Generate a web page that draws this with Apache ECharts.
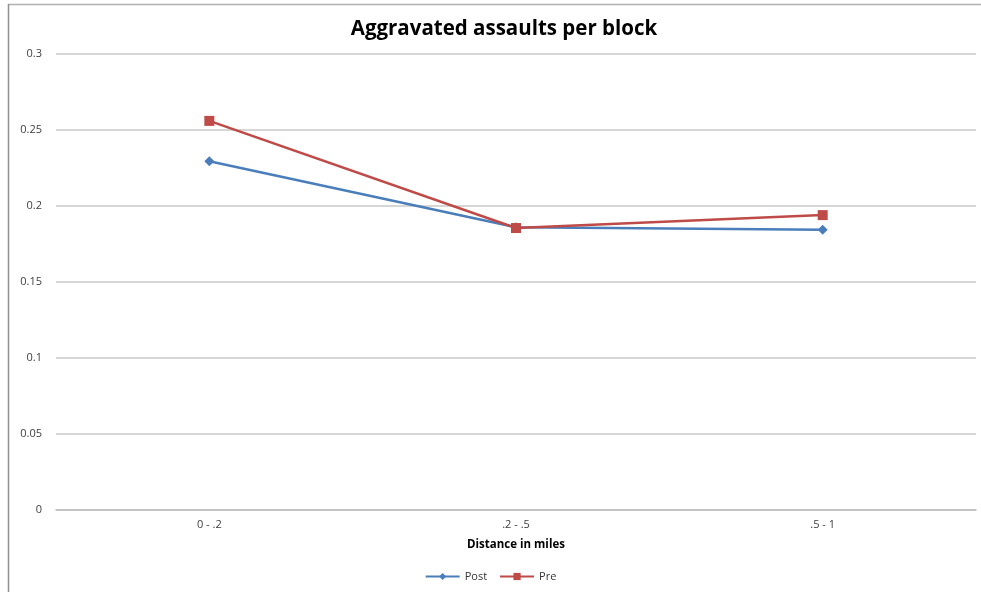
<!DOCTYPE html>
<html><head><meta charset="utf-8">
<script src="https://cdn.jsdelivr.net/npm/echarts@6/dist/echarts.min.js"></script>
<style>html,body{margin:0;padding:0;background:#fff}#c{width:981px;height:592px}</style>
</head><body><div id="c"></div>
<script>
const categories = ['0 - .2', '.2 - .5', '.5 - 1'];
const postValues = [0.2295, 0.1860, 0.1843];
const preValues = [0.2560, 0.1855, 0.1940];
const yTicks = {min: 0, max: 0.3, interval: 0.05};

const chart = echarts.init(document.getElementById('c'));
chart.setOption({
  animation: false,
  backgroundColor: '#fff',
  title: {text: 'Aggravated assaults per block', left: 499, textAlign: 'center', top: 14,
    textStyle: {fontFamily: 'Open Sans', fontSize: 20.5, fontWeight: 'bold', color: '#000'}},
  graphic: [
    {type: 'line', shape: {x1: 8, y1: 4.5, x2: 981, y2: 4.5}, style: {stroke: '#b0b0b0', lineWidth: 1.5}},
    {type: 'line', shape: {x1: 8.5, y1: 4, x2: 8.5, y2: 592}, style: {stroke: '#909090', lineWidth: 1.5}}
  ],
  grid: {left: 56, right: 5, top: 54, bottom: 82, containLabel: false},
  legend: {bottom: 5, left: 'center', itemWidth: 34, itemHeight: 9, itemGap: 12,
    textStyle: {fontFamily: 'Open Sans', fontSize: 11, color: '#333'},
    data: ['Post', 'Pre']},
  xAxis: {type: 'category', data: categories, boundaryGap: true,
    name: 'Distance in miles', nameLocation: 'middle', nameGap: 29,
    nameTextStyle: {fontFamily: 'Open Sans', fontSize: 11.5, fontWeight: 'bold', color: '#000'},
    axisLine: {show: true, lineStyle: {color: '#bfbfbf', width: 1.5}},
    axisTick: {show: false},
    axisLabel: {fontFamily: 'Open Sans', fontSize: 11, color: '#404040', margin: 9}},
  yAxis: {type: 'value', min: yTicks.min, max: yTicks.max, interval: yTicks.interval,
    axisLine: {show: false}, axisTick: {show: false},
    axisLabel: {fontFamily: 'Open Sans', fontSize: 11, color: '#404040', margin: 14},
    splitLine: {lineStyle: {color: '#c8c8c8', width: 1.5}}},
  series: [
    {name: 'Post', type: 'line', data: postValues, symbol: 'diamond', symbolSize: 10,
      itemStyle: {color: '#4a7ebb'}, lineStyle: {color: '#4a7ebb', width: 2.5}},
    {name: 'Pre', type: 'line', data: preValues, symbol: 'rect', symbolSize: 10,
      itemStyle: {color: '#be4b48'}, lineStyle: {color: '#be4b48', width: 2.5}}
  ]
});
</script></body></html>
